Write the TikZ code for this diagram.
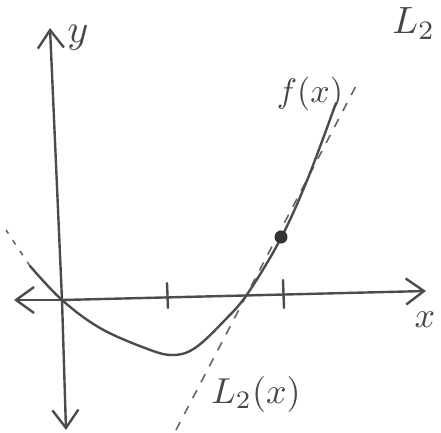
\documentclass[tikz,border=0pt]{standalone}
\usetikzlibrary{arrows.meta}
\begin{document}
\begin{tikzpicture}[x=1pt,y=-1pt,
  pencil/.style={line width=2.4pt,draw=black!70,line cap=round,line join=round},
  axisarrow/.style={pencil,-{Straight Barb[length=18pt,width=26pt,line width=2.4pt]}},
  tangentline/.style={line width=1.6pt,draw=black!60,dashed,dash pattern=on 9pt off 9pt},
  hand/.style={text=black!72,inner sep=0pt}]
\useasboundingbox[fill=white] (0,0) rectangle (441,432);
% axes
\coordinate (O) at (62,300);
\coordinate (xleft) at (14,300);
\coordinate (xright) at (426,291);
\coordinate (ytop) at (50,28);
\coordinate (ybot) at (66,430);
\draw[axisarrow] (O) -- (xleft);
\draw[axisarrow] (O) -- (xright);
\draw[axisarrow] (O) -- (ytop);
\draw[axisarrow] (O) -- (ybot);
% ticks
\coordinate (t1a) at (167,283); \coordinate (t1b) at (168,308);
\coordinate (t2a) at (283,280); \coordinate (t2b) at (284,308);
\draw[pencil] (t1a) -- (t1b);
\draw[pencil] (t2a) -- (t2b);
% tangent L2
\coordinate (La) at (176,430);
\coordinate (Lb) at (358,82);
\draw[tangentline] (La) -- (Lb);
% dashed extension at left
\coordinate (ca) at (30,266);
\coordinate (cb) at (6,230);
\draw[tangentline,dash pattern=on 5pt off 8pt] (ca) -- (cb);
% curve f
\draw[pencil] plot[smooth,tension=0.6] coordinates {(30,266)(62,300)(100,328)(145,348)(172,355)(195,348)(225,320)(248,293)(281,238)(308,178)(336,103)};
% point
\node[circle,fill=black!80,inner sep=0pt,minimum size=13pt] (P) at (281,237) {};
% labels
\node[hand,scale=4.0] (ylab) at (78,38) {$y$};
\node[hand,scale=3.6] (xlab) at (425,320) {$x$};
\node[hand,scale=3.4] (flab) at (310,94) {$f(x)$};
\node[hand,scale=3.6] (L2lab) at (256,394) {$L_2(x)$};
\node[hand,scale=3.8,anchor=south east] (L2top) at (436,40) {$L_2$};
\end{tikzpicture}
\end{document}
